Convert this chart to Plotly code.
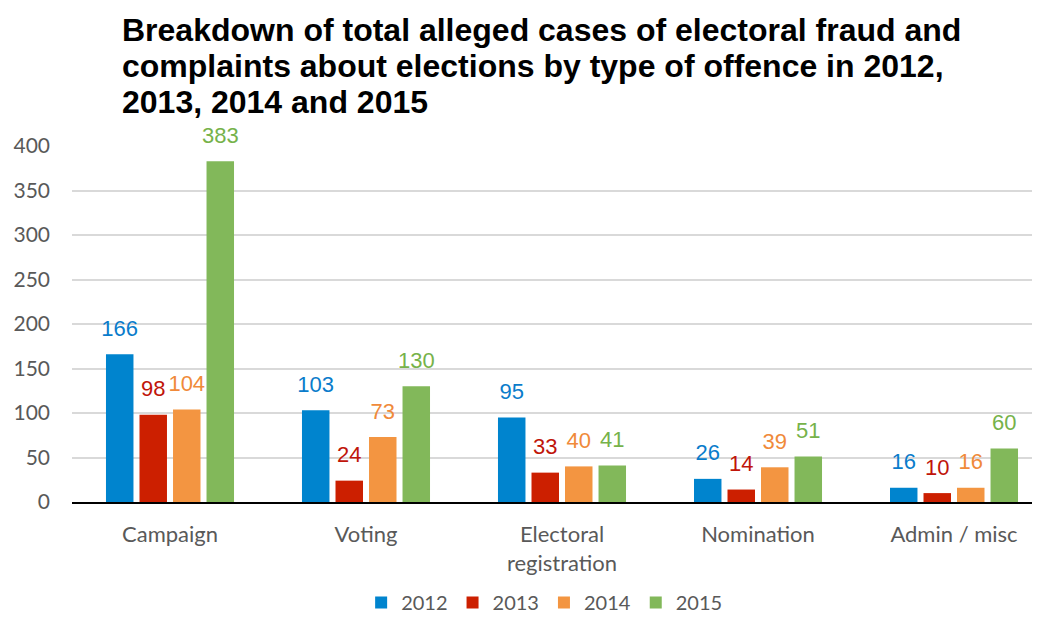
import plotly.graph_objects as go

categories = ["Campaign", "Voting", "Electoral<br>registration", "Nomination", "Admin / misc"]
years = ["2012", "2013", "2014", "2015"]
v2012 = [166, 103, 95, 26, 16]
v2013 = [98, 24, 33, 14, 10]
v2014 = [104, 73, 40, 39, 16]
v2015 = [383, 130, 41, 51, 60]
series = [v2012, v2013, v2014, v2015]
title_lines = [
    "Breakdown of total alleged cases of electoral fraud and",
    "complaints about elections by type of offence in 2012,",
    "2013, 2014 and 2015",
]
bar_colors = ["#0084CE", "#CC1F00", "#F39541", "#82B85A"]
label_colors = ["#0A7CCB", "#C0150A", "#F08A3A", "#76B24A"]

W, H = 1032, 609          # page body has an 8px margin
ML, MT, MB, MR = 64, 138, 115, 0
PW, PH = W - ML - MR, H - MT - MB
CAT_PX = 196               # pixel width of one category in the reference

fig = go.Figure()
for name, vals, bc in zip(years, series, bar_colors):
    fig.add_trace(go.Bar(
        x=categories, y=vals, name=name,
        marker=dict(color=bc, line=dict(width=0)),
    ))
for name, vals, lc in zip(years, series, label_colors):
    fig.add_trace(go.Scatter(
        x=categories, y=vals, name=name, mode="markers+text",
        marker=dict(size=19, opacity=0),
        text=[str(v) for v in vals], textposition="top center",
        textfont=dict(family="Liberation Sans, Arial", size=22, color=lc),
        showlegend=False, cliponaxis=False, hoverinfo="skip",
    ))

for i, line in enumerate(title_lines):
    fig.add_annotation(
        text="<b>" + line + "</b>",
        xref="paper", yref="paper", x=(112 - ML) / PW, y=1 + (MT - 22 - 36 * i) / PH,
        xanchor="left", yanchor="middle", align="left", showarrow=False,
        font=dict(family="Liberation Sans, Arial", size=32, color="black"),
    )

fig.update_layout(
    width=W, height=H,
    paper_bgcolor="white", plot_bgcolor="white",
    margin=dict(l=ML, r=MR, t=MT, b=MB, autoexpand=False),
    barmode="group", bargap=0.316, bargroupgap=0.18,
    scattermode="group", scattergap=0.316,
    showlegend=True,
    legend=dict(orientation="h", x=0.52, xanchor="center", xref="container",
                y=-(MB + 5) / PH, yref="paper", yanchor="bottom",
                font=dict(family="Lato, Open Sans", size=20, color="#595959"),
                itemwidth=30, traceorder="normal"),
    font=dict(family="Lato, Open Sans", color="#595959"),
)
fig.update_yaxes(range=[0, 400], dtick=50, showgrid=True, gridcolor="#D9D9D9", gridwidth=2,
                 zeroline=False, showline=False, ticks="", automargin=False,
                 ticklabelstandoff=21,
                 tickfont=dict(family="Lato, Open Sans", size=21, color="#595959"))
fig.update_xaxes(range=[-0.5, -0.5 + PW / CAT_PX],
                 showline=True, linecolor="black", linewidth=2, ticks="", automargin=False,
                 ticklabelstandoff=12,
                 tickfont=dict(family="Lato, Open Sans", size=22, color="#595959"))

fig.write_html("out.html")
